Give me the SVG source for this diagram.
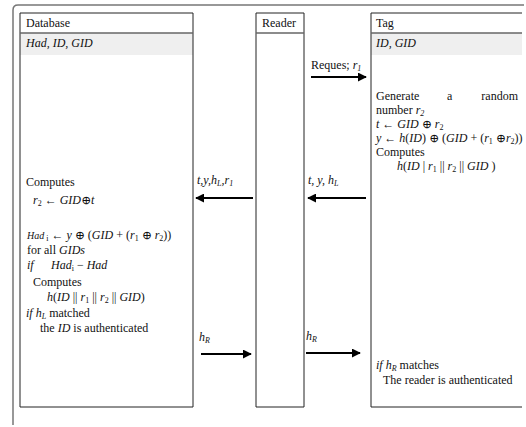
<svg xmlns="http://www.w3.org/2000/svg" width="526" height="427" viewBox="0 0 526 427">
<style>
text{font-family:"Liberation Serif","DejaVu Serif","Times New Roman",serif;font-size:12px;fill:#111}
.i{font-style:italic}
.s{font-size:8px}
.box{fill:none;stroke:#222;stroke-width:1}
.shade{fill:#efefef}
.sep{stroke:#666;stroke-width:1.5}
.arr{stroke:#000;stroke-width:2;fill:none;marker-end:url(#ah)}
</style>
<defs>
<marker id="ah" viewBox="0 0 10 10" refX="9" refY="5" markerWidth="4.5" markerHeight="4.5" orient="auto" markerUnits="strokeWidth">
<path d="M0,0 L10,5 L0,10 z" fill="#000"/>
</marker>
</defs>
<rect width="526" height="427" fill="#fff"/>
<path d="M13,425 V10 Q13,5 18,5 H524" fill="none" stroke="#777" stroke-width="1.5"/>

<g id="database" font-family="Liberation Serif, serif">
<rect class="shade" x="20" y="33" width="173" height="22"/>
<path class="box" d="M20,407 V13 H193 V407 H20"/>
<line class="sep" x1="20" y1="33" x2="193" y2="33"/>
<text x="26" y="27">Database</text>
<text x="26" y="47" class="i">Had, ID, GID</text>
<text x="26" y="186">Computes</text>
<text x="33" y="204"><tspan class="i">r</tspan><tspan class="s" dy="2">2</tspan><tspan dy="-2"> ← </tspan><tspan class="i">GID</tspan>⊕<tspan class="i">t</tspan></text>
<text x="27" y="239"><tspan class="i" font-size="10">Had</tspan><tspan class="s" dy="2"> i</tspan><tspan dy="-2"> ←  </tspan><tspan class="i">y</tspan> ⊕ (<tspan class="i">GID</tspan>  + (<tspan class="i">r</tspan><tspan class="s" dy="2">1</tspan><tspan dy="-2"> ⊕ </tspan><tspan class="i">r</tspan><tspan class="s" dy="2">2</tspan><tspan dy="-2">))</tspan></text>
<text x="27" y="254">for all <tspan class="i">GIDs</tspan></text>
<text x="27" y="269"><tspan class="i">if</tspan><tspan class="i" x="51">Had</tspan><tspan class="s" dy="2">i</tspan><tspan dy="-2"> − </tspan><tspan class="i">Had</tspan></text>
<text x="33" y="286">Computes</text>
<text x="47" y="301"><tspan class="i">h</tspan>(<tspan class="i">ID</tspan> || <tspan class="i">r</tspan><tspan class="s" dy="2">1</tspan><tspan dy="-2"> || </tspan><tspan class="i">r</tspan><tspan class="s" dy="2">2</tspan><tspan dy="-2"> || </tspan><tspan class="i">GID</tspan>)</text>
<text x="26" y="317"><tspan class="i">if h</tspan><tspan class="s i" dy="2">L</tspan><tspan dy="-2"> matched</tspan></text>
<text x="40" y="332">the <tspan class="i">ID</tspan> is authenticated</text>
</g>

<g id="reader">
<path class="box" d="M256,407 V13 H304 V407 H256"/>
<line class="sep" x1="256" y1="33" x2="304" y2="33"/>
<text x="262" y="27">Reader</text>
</g>

<g id="tag">
<rect class="shade" x="371" y="33" width="151" height="22"/>
<path class="box" d="M522,13 H371 V407 H522"/>
<line class="sep" x1="371" y1="33" x2="522" y2="33"/>
<text x="376" y="27">Tag</text>
<text x="376" y="47" class="i">ID, GID</text>
<text x="376" y="100">Generate</text>
<text x="447" y="100">a</text>
<text x="518" y="100" text-anchor="end">random</text>
<text x="376" y="114">number <tspan class="i">r</tspan><tspan class="s i" dy="2">2</tspan></text>
<text x="376" y="128"><tspan class="i">t</tspan> ←  <tspan class="i">GID</tspan>  ⊕ <tspan class="i">r</tspan><tspan class="s" dy="2">2</tspan></text>
<text x="376" y="142"><tspan class="i">y</tspan> ← <tspan class="i">h</tspan>(<tspan class="i">ID</tspan>) ⊕ (<tspan class="i">GID</tspan> + (<tspan class="i">r</tspan><tspan class="s" dy="2">1</tspan><tspan dy="-2"> ⊕</tspan><tspan class="i">r</tspan><tspan class="s" dy="2">2</tspan><tspan dy="-2">))</tspan></text>
<text x="376" y="156">Computes</text>
<text x="397" y="170"><tspan class="i">h</tspan>(<tspan class="i">ID</tspan> | <tspan class="i">r</tspan><tspan class="s" dy="2">1</tspan><tspan dy="-2"> || </tspan><tspan class="i">r</tspan><tspan class="s" dy="2">2</tspan><tspan dy="-2"> || </tspan><tspan class="i">GID</tspan> )</text>
<text x="376" y="369"><tspan class="i">if h</tspan><tspan class="s i" dy="2">R</tspan><tspan dy="-2">  matches</tspan></text>
<text x="383" y="384">The reader is authenticated</text>
</g>

<g id="connectors">
<line class="arr" x1="311" y1="77" x2="366" y2="77"/>
<text x="311" y="69">Reques; <tspan class="i">r</tspan><tspan class="s i" dy="2">1</tspan></text>
<line class="arr" x1="366" y1="198" x2="308" y2="198"/>
<text x="308" y="184" class="i">t, y, h<tspan class="s" dy="2">L</tspan></text>
<line class="arr" x1="253" y1="198" x2="196" y2="198"/>
<text x="197" y="184" class="i">t,y,h<tspan class="s" dy="2">L</tspan><tspan dy="-2">,r</tspan><tspan class="s" dy="2">1</tspan></text>
<line class="arr" x1="201" y1="354" x2="251" y2="354"/>
<text x="199" y="341" class="i">h<tspan class="s" dy="2">R</tspan></text>
<line class="arr" x1="306" y1="353" x2="360" y2="353"/>
<text x="306" y="340" class="i">h<tspan class="s" dy="2">R</tspan></text>
</g>
</svg>
